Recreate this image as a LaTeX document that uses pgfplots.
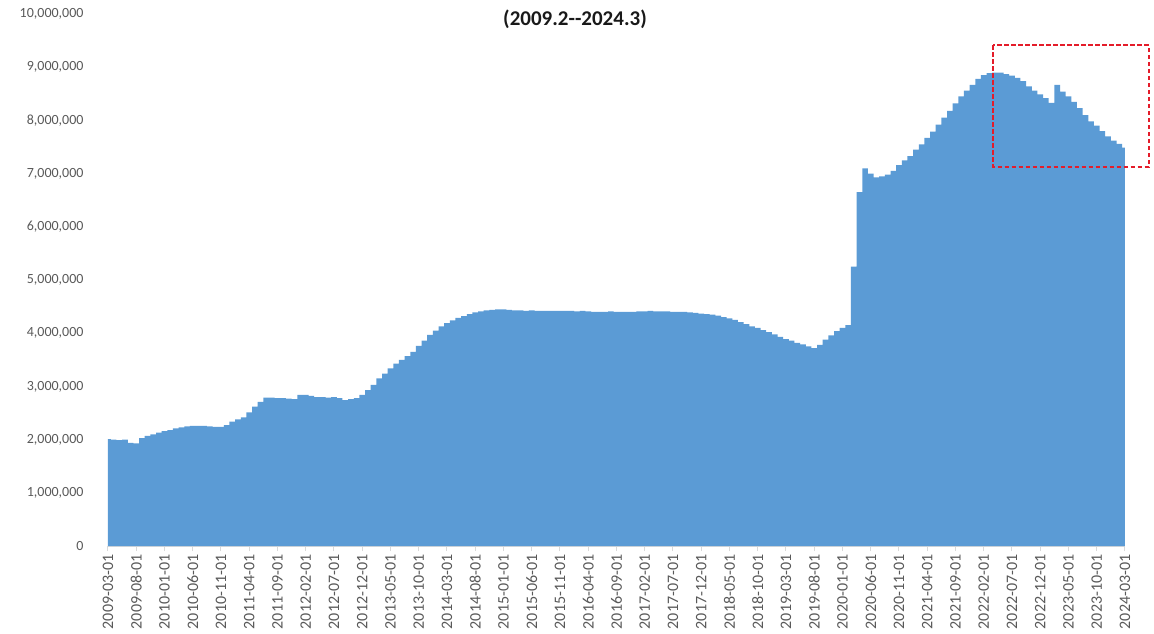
\documentclass[border=0pt]{standalone}
\usepackage{fontspec}
\setmainfont{Carlito}
\usepackage{pgfplots}
\pgfplotsset{compat=1.18}
\usepackage{pgfplotstable}

\definecolor{areablue}{RGB}{91,155,213}
\definecolor{ticktext}{RGB}{89,89,89}
\definecolor{axisgray}{RGB}{217,217,217}
\definecolor{markred}{RGB}{228,28,42}

% Total assets, month by month (index 0 = 2009-03)
\pgfplotstableread{
m month v
0 2009-03 2010000
1 2009-04 2000000
2 2009-05 1990000
3 2009-06 2000000
4 2009-07 1940000
5 2009-08 1930000
6 2009-09 2030000
7 2009-10 2070000
8 2009-11 2100000
9 2009-12 2130000
10 2010-01 2160000
11 2010-02 2180000
12 2010-03 2210000
13 2010-04 2230000
14 2010-05 2250000
15 2010-06 2260000
16 2010-07 2260000
17 2010-08 2260000
18 2010-09 2250000
19 2010-10 2240000
20 2010-11 2240000
21 2010-12 2270000
22 2011-01 2340000
23 2011-02 2380000
24 2011-03 2420000
25 2011-04 2510000
26 2011-05 2620000
27 2011-06 2710000
28 2011-07 2790000
29 2011-08 2790000
30 2011-09 2780000
31 2011-10 2780000
32 2011-11 2770000
33 2011-12 2760000
34 2012-01 2840000
35 2012-02 2840000
36 2012-03 2820000
37 2012-04 2800000
38 2012-05 2800000
39 2012-06 2790000
40 2012-07 2800000
41 2012-08 2780000
42 2012-09 2740000
43 2012-10 2760000
44 2012-11 2780000
45 2012-12 2840000
46 2013-01 2930000
47 2013-02 3030000
48 2013-03 3150000
49 2013-04 3240000
50 2013-05 3340000
51 2013-06 3430000
52 2013-07 3500000
53 2013-08 3570000
54 2013-09 3650000
55 2013-10 3760000
56 2013-11 3860000
57 2013-12 3970000
58 2014-01 4050000
59 2014-02 4130000
60 2014-03 4190000
61 2014-04 4240000
62 2014-05 4290000
63 2014-06 4320000
64 2014-07 4360000
65 2014-08 4390000
66 2014-09 4410000
67 2014-10 4430000
68 2014-11 4440000
69 2014-12 4450000
70 2015-01 4450000
71 2015-02 4440000
72 2015-03 4430000
73 2015-04 4430000
74 2015-05 4420000
75 2015-06 4430000
76 2015-07 4420000
77 2015-08 4420000
78 2015-09 4420000
79 2015-10 4420000
80 2015-11 4420000
81 2015-12 4420000
82 2016-01 4420000
83 2016-02 4410000
84 2016-03 4420000
85 2016-04 4410000
86 2016-05 4400000
87 2016-06 4400000
88 2016-07 4400000
89 2016-08 4410000
90 2016-09 4400000
91 2016-10 4400000
92 2016-11 4400000
93 2016-12 4400000
94 2017-01 4410000
95 2017-02 4410000
96 2017-03 4420000
97 2017-04 4410000
98 2017-05 4410000
99 2017-06 4410000
100 2017-07 4400000
101 2017-08 4400000
102 2017-09 4400000
103 2017-10 4390000
104 2017-11 4380000
105 2017-12 4370000
106 2018-01 4360000
107 2018-02 4350000
108 2018-03 4330000
109 2018-04 4300000
110 2018-05 4280000
111 2018-06 4250000
112 2018-07 4210000
113 2018-08 4170000
114 2018-09 4130000
115 2018-10 4100000
116 2018-11 4060000
117 2018-12 4020000
118 2019-01 3980000
119 2019-02 3930000
120 2019-03 3890000
121 2019-04 3860000
122 2019-05 3820000
123 2019-06 3790000
124 2019-07 3750000
125 2019-08 3720000
126 2019-09 3780000
127 2019-10 3880000
128 2019-11 3960000
129 2019-12 4040000
130 2020-01 4100000
131 2020-02 4150000
132 2020-03 5250000
133 2020-04 6650000
134 2020-05 7100000
135 2020-06 7000000
136 2020-07 6930000
137 2020-08 6950000
138 2020-09 6980000
139 2020-10 7050000
140 2020-11 7160000
141 2020-12 7250000
142 2021-01 7330000
143 2021-02 7450000
144 2021-03 7550000
145 2021-04 7670000
146 2021-05 7790000
147 2021-06 7920000
148 2021-07 8050000
149 2021-08 8180000
150 2021-09 8320000
151 2021-10 8450000
152 2021-11 8560000
153 2021-12 8670000
154 2022-01 8780000
155 2022-02 8850000
156 2022-03 8890000
157 2022-04 8900000
158 2022-05 8900000
159 2022-06 8870000
160 2022-07 8840000
161 2022-08 8800000
162 2022-09 8740000
163 2022-10 8640000
164 2022-11 8560000
165 2022-12 8490000
166 2023-01 8420000
167 2023-02 8330000
168 2023-03 8670000
169 2023-04 8540000
170 2023-05 8450000
171 2023-06 8350000
172 2023-07 8230000
173 2023-08 8100000
174 2023-09 7980000
175 2023-10 7900000
176 2023-11 7800000
177 2023-12 7700000
178 2024-01 7620000
179 2024-02 7560000
180 2024-03 7490000
}\balance

\begin{document}
\begin{tikzpicture}
\begin{axis}[
  at={(0,0)}, anchor=south west,
  scale only axis, width=1017bp, height=532bp,
  xmin=0, xmax=180, ymin=0, ymax=10000000,
  axis x line*=bottom, axis y line*=left,
  y axis line style={draw=none},
  x axis line style={draw=axisgray, line width=1bp},
  tick align=outside,
  major tick length=5bp,
  major x tick style={draw=axisgray, line width=1bp},
  major y tick style={draw=none},
  xtick={0,5,...,180},
  xticklabels={2009-03-01,2009-08-01,2010-01-01,2010-06-01,2010-11-01,
    2011-04-01,2011-09-01,2012-02-01,2012-07-01,2012-12-01,2013-05-01,
    2013-10-01,2014-03-01,2014-08-01,2015-01-01,2015-06-01,2015-11-01,
    2016-04-01,2016-09-01,2017-02-01,2017-07-01,2017-12-01,2018-05-01,
    2018-10-01,2019-03-01,2019-08-01,2020-01-01,2020-06-01,2020-11-01,
    2021-04-01,2021-09-01,2022-02-01,2022-07-01,2022-12-01,2023-05-01,
    2023-10-01,2024-03-01},
  x tick label style={rotate=90, anchor=east, text=ticktext,
    font=\fontsize{16bp}{17bp}\selectfont},
  ytick={0,1000000,2000000,3000000,4000000,5000000,6000000,7000000,8000000,9000000,10000000},
  scaled y ticks=false,
  y tick label style={text=ticktext, xshift=-16bp,
    font=\fontsize{14bp}{16bp}\selectfont,
    /pgf/number format/.cd, fixed, 1000 sep={,}, assume math mode=true},
  clip=false,
]
\addplot[fill=areablue, draw=none, const plot mark mid]
  table[x=m, y=v] {\balance} \closedcycle;
% highlighted window: the run-off since the 2022 peak
\draw[markred, line width=2.2bp, dash pattern=on 4.5bp off 2.5bp]
  (axis cs:156.7,9417000) rectangle (axis cs:184.25,7130000);
\end{axis}
\node[font=\bfseries\fontsize{21bp}{23bp}\selectfont, text=black!90]
  at (467bp,527bp) {(2009.2{-}{-}2024.3)};
\pgfresetboundingbox
\path[use as bounding box] (-108bp,-88bp) rectangle (1046bp,546bp);
\end{tikzpicture}
\end{document}
